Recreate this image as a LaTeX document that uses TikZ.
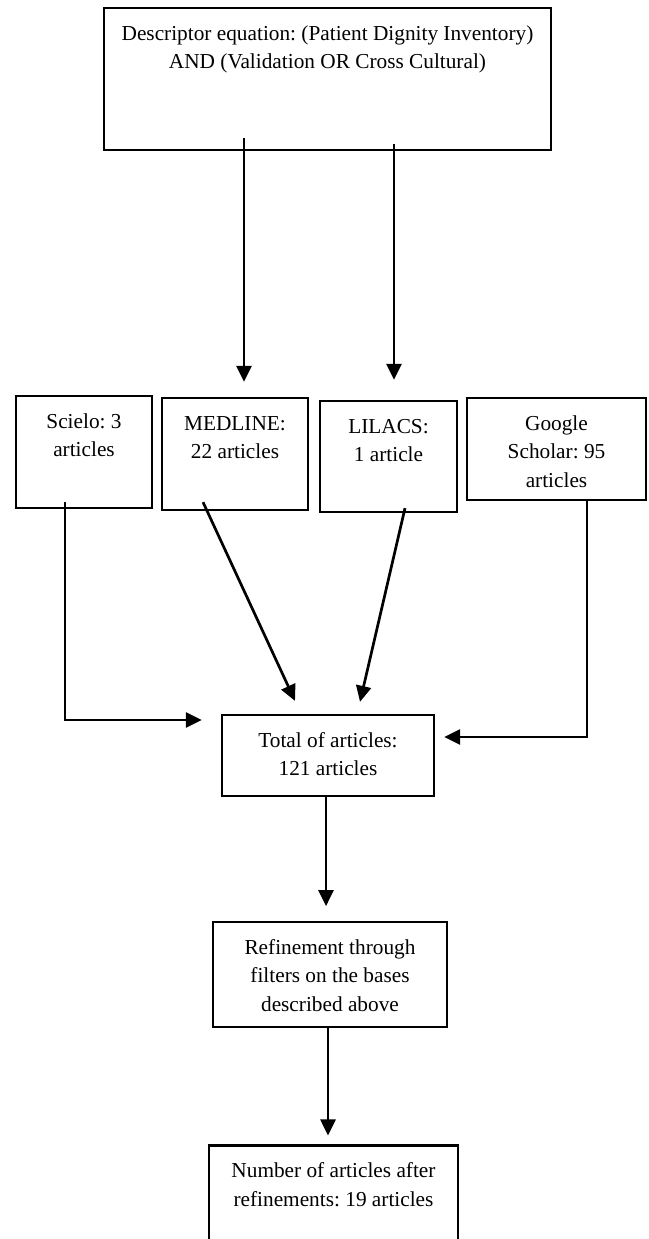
\documentclass[tikz,border=0pt]{standalone}
\usepackage{fontspec}
\setmainfont{Liberation Serif}
\usetikzlibrary{arrows.meta}
\usetikzlibrary{positioning}
\frenchspacing

\newcommand{\boxlines}[3]{\parbox[c][#2][t]{#1}{\centering\rule{0pt}{32pt}#3}}

\begin{document}
\begin{tikzpicture}[x=1pt,y=-1pt,>={Triangle[length=16pt,width=15pt]},line width=2.7pt]
  \tikzstyle{block}=[draw=black, line width=2.3pt, inner sep=0pt, font=\fontsize{21.3}{28.5}\selectfont]
  \clip (0,0) rectangle (648,1239);
  % search equation
  \node[block] (query) at (327.5,79) {\boxlines{447pt}{142pt}{Descriptor equation: (Patient Dignity Inventory)\\AND (Validation OR Cross Cultural)}};
  % databases
  \node[block] (scielo)  at (84,452)    {\boxlines{136pt}{112pt}{Scielo: 3\\articles}};
  \node[block] (medline) at (235,454)   {\boxlines{146pt}{112pt}{MEDLINE:\\22 articles}};
  \node[block] (lilacs)  at (388.5,456.5) {\boxlines{137pt}{111pt}{LILACS:\\1 article}};
  \node[block] (google)  at (556.5,449) {\boxlines{179pt}{102pt}{Google\\Scholar: 95\\articles}};
  % results
  \node[block] (total) at (328,755.5) {\boxlines{212pt}{81pt}{Total of articles:\\121 articles}};
  \node[block] (refine) [below=124pt of total, xshift=2pt] {\boxlines{234pt}{105pt}{Refinement through\\filters on the bases\\described above}};
  \node[block] (count) [below=116pt of refine, xshift=3.5pt] {\boxlines{249pt}{130pt}{Number of articles after\\refinements: 19 articles}};
  \path[->]
  ([xshift=-83.5pt,yshift=13pt]query.south) edge ([xshift=9pt,yshift=15pt]medline.north)
  ([xshift=66.5pt,yshift=7pt]query.south) edge ([xshift=5.5pt,yshift=20pt]lilacs.north)
  ([xshift=-32pt,yshift=9pt]medline.south) edge ([xshift=-33pt,yshift=13pt]total.north)
  ([xshift=16.5pt,yshift=5pt]lilacs.south) edge ([xshift=32pt,yshift=12pt]total.north)
  ([xshift=-2pt]total.south) edge ([xshift=-4pt,yshift=15pt]refine.north)
  ([xshift=-2pt]refine.south) edge ([xshift=-5.5pt,yshift=9pt]count.north);
  \draw[->] ([xshift=-19pt,yshift=7pt]scielo.south) |- ([xshift=-19pt,yshift=35.5pt]total.west);
  \draw[->] ([xshift=30.5pt]google.south) |- ([xshift=9pt,yshift=18.5pt]total.east);
\end{tikzpicture}
\end{document}
